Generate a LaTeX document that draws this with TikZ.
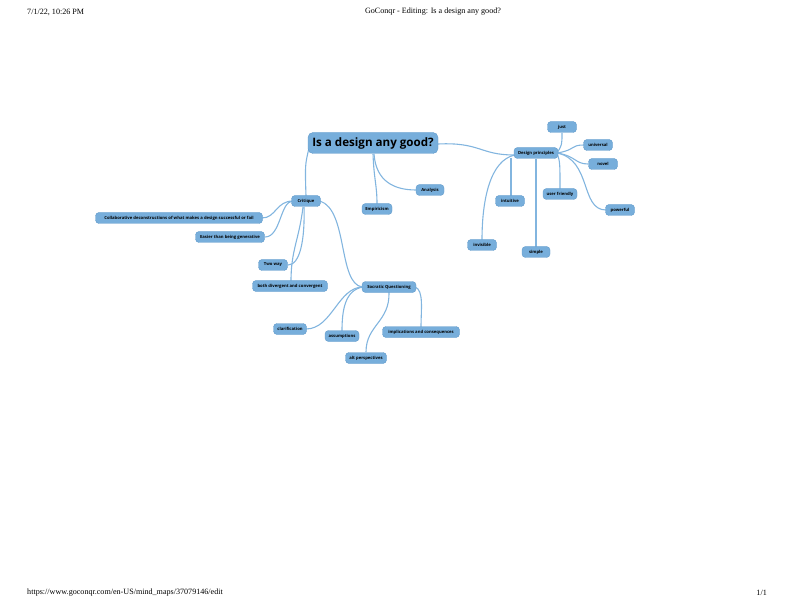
\documentclass[tikz,border=0pt]{standalone}
\usepackage{fontspec}
\setmainfont{Liberation Serif}
\newfontfamily\osans{Open Sans}
\definecolor{nodefill}{HTML}{77AEDB}
\definecolor{nodeline}{HTML}{629BCB}
\definecolor{conn}{HTML}{82B5DF}
\tikzset{
  nd/.style={draw=nodeline, line width=0.4pt, fill=nodefill, rounded corners=3.5pt,
    inner sep=0pt, minimum height=11, font=\osans\bfseries\fontsize{4.2}{5}\selectfont, text=black},
  mainnd/.style={nd, rounded corners=5pt, minimum height=21, font=\osans\bfseries\fontsize{11.6}{13}\selectfont},
  hdr/.style={inner sep=0pt, font=\fontsize{8.1}{9.5}\selectfont},
  cn/.style={draw=conn, line width=1.1pt}
}
\begin{document}
\begin{tikzpicture}[x=1pt,y=-1pt]
\useasboundingbox (0,0) rectangle (792,612);
% header / footer
\node[hdr, anchor=west] (hl) at (27,12) {7/1/22, 10:26 PM};
\node[hdr] (hc) at (433,12) {GoConqr - Editing: Is a design any good?};
\node[hdr, anchor=west] (fl) at (27,593) {https://www.goconqr.com/en-US/mind\_maps/37079146/edit};
\node[hdr, anchor=east] (fr) at (767,593) {1/1};

% connectors (drawn first)
\draw[cn] (438,144) .. controls (480,142) and (480,155) .. (514,155);
\draw[cn] (309,148) .. controls (305,165) .. (306,196);
\draw[cn] (373,154) .. controls (374,180) and (377,185) .. (377,204);
\draw[cn] (374,154) .. controls (376,182) and (395,190) .. (416,190);
% Critique
\draw[cn] (293,201) .. controls (276,201) and (276,218) .. (262,218);
\draw[cn] (293,201) .. controls (280,201) and (281,237) .. (265,237);
\draw[cn] (304,207) .. controls (305,240) and (300,265) .. (288,265);
\draw[cn] (303,207) .. controls (299,240) and (291,250) .. (291,281);
\draw[cn] (320,201) .. controls (348,210) and (338,283) .. (362,287);
% Socratic
\draw[cn] (363,287) .. controls (338,287) and (332,329) .. (306,329);
\draw[cn] (363,287) .. controls (345,290) and (342,310) .. (342,331);
\draw[cn] (415,287) .. controls (424,290) and (421,310) .. (421,327);
\draw[cn] (389,292) .. controls (390,322) and (366,325) .. (366,352);
% Design principles
\draw[cn] (557,153) .. controls (562,145) .. (562,133);
\draw[cn] (557,153) .. controls (576,150) and (570,145) .. (584,145);
\draw[cn] (557,153) .. controls (576,156) and (575,164) .. (588,164);
\draw[cn] (557,153) .. controls (560,162) .. (560,189);
\draw[cn] (557,153) .. controls (592,160) and (580,210) .. (606,210);
\draw[cn] (511,158) -- (511,196);
\draw[cn] (515,155) .. controls (490,160) and (482,200) .. (482,240);
\draw[cn] (536,159) -- (536,247);

% nodes
\node[mainnd, minimum width=130] (main) at (373,143) {Is a design any good?};
\node[nd, minimum width=28] (analysis) at (430,190) {Analysis};
\node[nd, minimum width=30] (emp) at (377,209) {Empiricism};
\node[nd, minimum width=29] (crit) at (306,201) {Critique};
\node[nd, minimum width=167] (collab) at (179,218) {Collaborative deconstructions of what makes a design successful or fail};
\node[nd, minimum width=69] (easier) at (230,237) {Easier than being generative};
\node[nd, minimum width=29] (two) at (273,265) {Two way};
\node[nd, minimum width=75] (both) at (290,286) {both divergent and convergent};
\node[nd, minimum width=54] (soc) at (389,287) {Socratic Questioning};
\node[nd, minimum width=33] (clar) at (290,329) {clarification};
\node[nd, minimum width=34] (assum) at (342,336) {assumptions};
\node[nd, minimum width=77] (impl) at (421,332) {implications and consequences};
\node[nd, minimum width=41] (alt) at (366,358) {alt perspectives};
\node[nd, minimum width=44] (dp) at (536,153) {Design principles};
\node[nd, minimum width=29] (just) at (562,127) {just};
\node[nd, minimum width=29] (univ) at (598,145) {universal};
\node[nd, minimum width=29] (novel) at (603,164) {novel};
\node[nd, minimum width=34] (uf) at (560,194) {user friendly};
\node[nd, minimum width=29] (pow) at (620,210) {powerful};
\node[nd, minimum width=29] (intu) at (510,201) {intuitive};
\node[nd, minimum width=29] (invis) at (482,245) {invisible};
\node[nd, minimum width=28] (simple) at (536,252) {simple};
\end{tikzpicture}
\end{document}
